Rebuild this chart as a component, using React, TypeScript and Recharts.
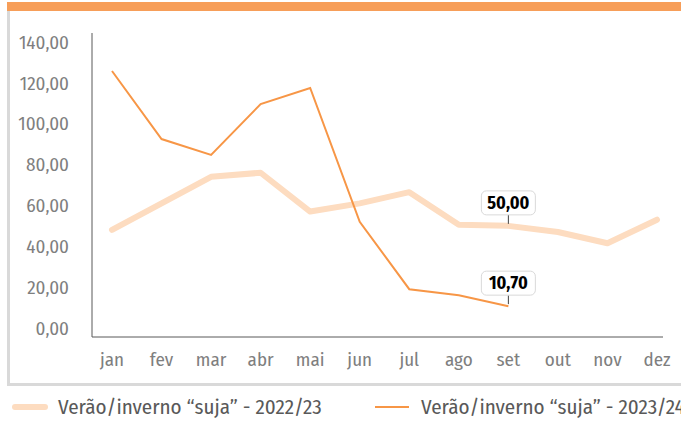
import React from "react";
import { LineChart, Line, XAxis, YAxis } from "recharts";

const months = ["jan", "fev", "mar", "abr", "mai", "jun", "jul", "ago", "set", "out", "nov", "dez"];
const verao2223 = [48, 61, 74, 76, 57, 61, 66.5, 50.5, 50, 47, 41.5, 53];
const verao2324: (number | null)[] = [125.8, 92.5, 84.7, 109.6, 117.5, 52, 19, 16, 10.7, null, null, null];
const yTicks = [0, 20, 40, 60, 80, 100, 120, 140];
const labelIndex = 8;
const seriesNames = ["Verão/inverno “suja” - 2022/23", "Verão/inverno “suja” - 2023/24"];

const data = months.map((m, i) => ({ m, a: verao2223[i], b: verao2324[i] }));

const FONT = "'Fira Sans Condensed', 'Roboto Condensed', 'Liberation Sans Narrow', 'DejaVu Sans Condensed', 'Noto Sans', sans-serif";
const PEACH = "#FDDCC0";
const ORANGE = "#F79646";

const fmt = (v: number) => v.toFixed(2).replace(".", ",");

const makeLabel = (values: (number | null)[]) => (props: any) => {
  const { x, y, index } = props;
  if (index !== labelIndex || values[index] == null) return null;
  const text = fmt(values[index] as number);
  const w = 54;
  const h = 24;
  const bottom = y - 11;
  return (
    <g>
      <line x1={x} y1={bottom} x2={x} y2={y - 2} stroke="#404040" strokeWidth={1} />
      <rect x={x - w / 2} y={bottom - h} width={w} height={h} rx={5} ry={5} fill="#fff" stroke="#d9d9d9" strokeWidth={1} />
      <text x={x} y={bottom - h / 2} textAnchor="middle" dominantBaseline="central" fontFamily={FONT} fontWeight={700} fontSize={18} fill="#000" style={{ fontStretch: "condensed" }}>
        {text}
      </text>
    </g>
  );
};

export default function App() {
  return (
    <div style={{ position: "absolute", left: 0, top: 0, width: 681, height: 423, overflow: "hidden", background: "#fff", fontFamily: FONT }}>
      <div style={{ position: "absolute", left: 7, top: 2, width: 674, height: 9, background: "#F79E59" }} />
      <div style={{ position: "absolute", left: 7, top: 11, width: 3, height: 375, background: "#d9d9d9" }} />
      <div style={{ position: "absolute", left: 7, top: 383, width: 674, height: 3, background: "#d9d9d9" }} />
      <div style={{ position: "absolute", left: 0, top: 0 }}>
        <LineChart width={681} height={423} data={data} margin={{ top: 33, right: 18, left: 0, bottom: 0 }}>
          <XAxis
            dataKey="m"
            height={86}
            axisLine={{ stroke: "#595959", strokeWidth: 1 }}
            tickLine={false}
            tickSize={0}
            tickMargin={16}
            padding={{ left: 20, right: 6 }}
            interval={0}
            tick={{ fill: "#7f7f7f", fontSize: 19, fontFamily: FONT, style: { fontStretch: "condensed" } } as any}
          />
          <YAxis
            width={92}
            type="number"
            domain={[-4.4, 144.4]}
            ticks={yTicks}
            interval={0}
            tickFormatter={fmt}
            axisLine={{ stroke: "#595959", strokeWidth: 1 }}
            tickLine={false}
            tickSize={0}
            tickMargin={23}
            tick={{ fill: "#7f7f7f", fontSize: 19, fontFamily: FONT, style: { fontStretch: "condensed" } } as any}
          />
          <Line
            type="linear"
            dataKey="a"
            stroke={PEACH}
            strokeWidth={6}
            strokeLinecap="round"
            strokeLinejoin="round"
            dot={false}
            activeDot={false}
            isAnimationActive={false}
            label={makeLabel(verao2223)}
          />
          <Line
            type="linear"
            dataKey="b"
            stroke={ORANGE}
            strokeWidth={2}
            dot={false}
            activeDot={false}
            isAnimationActive={false}
            connectNulls={false}
            label={makeLabel(verao2324)}
          />
        </LineChart>
      </div>
      <div style={{ position: "absolute", left: 12, top: 392, height: 30, display: "flex", alignItems: "center", whiteSpace: "nowrap", color: "#595959", fontSize: 21, fontStretch: "condensed" }}>
        <svg width={36} height={8} style={{ marginRight: 10 }}>
          <line x1={3} y1={4} x2={33} y2={4} stroke={PEACH} strokeWidth={6} strokeLinecap="round" />
        </svg>
        <span style={{ width: 317 }}>{seriesNames[0]}</span>
        <svg width={34} height={4} style={{ marginRight: 12 }}>
          <line x1={0} y1={2} x2={34} y2={2} stroke={ORANGE} strokeWidth={2} />
        </svg>
        <span>{seriesNames[1]}</span>
      </div>
    </div>
  );
}
